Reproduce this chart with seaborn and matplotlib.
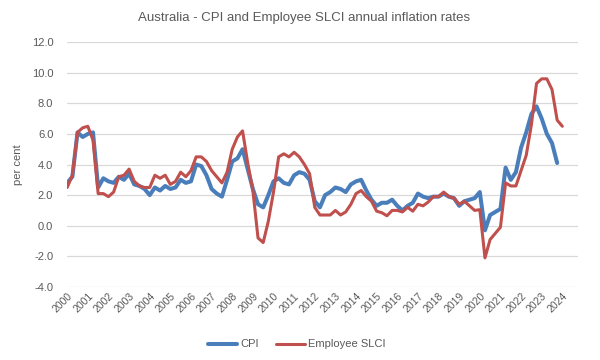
import numpy as np
import pandas as pd
import seaborn as sns
import matplotlib.pyplot as plt
from matplotlib.ticker import FuncFormatter

# annual inflation rates, quarterly from March 2000
cpi = [2.8, 3.2, 6.1, 5.8, 6.0, 6.1, 2.5, 3.1, 2.9, 2.8, 3.2, 3.0,
       3.4, 2.7, 2.6, 2.4, 2.0, 2.5, 2.3, 2.6, 2.4, 2.5, 3.0, 2.8,
       2.9, 4.0, 3.9, 3.3, 2.4, 2.1, 1.9, 3.0, 4.2, 4.4, 5.0, 3.7,
       2.4, 1.4, 1.2, 2.0, 2.9, 3.1, 2.8, 2.7, 3.3, 3.5, 3.4, 3.0,
       1.6, 1.2, 2.0, 2.2, 2.5, 2.4, 2.2, 2.7, 2.9, 3.0, 2.3, 1.7,
       1.3, 1.5, 1.5, 1.7, 1.3, 1.0, 1.3, 1.5, 2.1, 1.9, 1.8, 1.9,
       1.9, 2.1, 1.9, 1.8, 1.3, 1.6, 1.7, 1.8, 2.2, -0.3, 0.7, 0.9,
       1.1, 3.8, 3.0, 3.5, 5.1, 6.1, 7.3, 7.8, 7.0, 6.0, 5.4, 4.1]

slci = [2.5, 3.3, 6.1, 6.4, 6.5, 5.6, 2.1, 2.1, 1.9, 2.2, 3.2, 3.3,
        3.7, 2.9, 2.6, 2.5, 2.5, 3.3, 3.1, 3.3, 2.7, 2.9, 3.5, 3.2,
        3.6, 4.5, 4.5, 4.2, 3.6, 3.2, 2.8, 3.5, 5.0, 5.8, 6.2, 4.1,
        2.3, -0.8, -1.1, 0.3, 2.2, 4.5, 4.7, 4.5, 4.8, 4.5, 4.0, 3.4,
        1.2, 0.7, 0.7, 0.7, 1.0, 0.7, 0.9, 1.4, 2.1, 2.3, 1.9, 1.6,
        0.95, 0.85, 0.65, 1.0, 1.0, 0.9, 1.2, 0.95, 1.4, 1.3, 1.55, 1.9,
        1.9, 2.2, 1.9, 1.8, 1.4, 1.6, 1.3, 1.0, 1.05, -2.1, -0.9, -0.5,
        -0.1, 2.8, 2.6, 2.6, 3.6, 4.6, 6.6, 9.3, 9.6, 9.6, 8.9, 6.9, 6.5]

year_labels = [str(y) for y in range(2000, 2025)]
y_ticks = [-4, -2, 0, 2, 4, 6, 8, 10, 12]

blue = "#4A7EBB"
red = "#C0504D"
grey_text = "#595959"

frame = pd.concat([
    pd.DataFrame({"quarter": np.arange(len(cpi)), "value": cpi, "series": "CPI"}),
    pd.DataFrame({"quarter": np.arange(len(slci)), "value": slci, "series": "Employee SLCI"}),
])

sns.set_style("white")
plt.rcParams["font.family"] = ["Liberation Sans", "DejaVu Sans"]

fig = plt.figure(figsize=(6, 3.6), dpi=100)
ax = fig.add_axes([0.112, 0.203, 0.851, 0.680])

sns.lineplot(data=frame[frame.series == "CPI"], x="quarter", y="value",
             color=blue, linewidth=2.9, label="CPI", ax=ax)
sns.lineplot(data=frame[frame.series == "Employee SLCI"], x="quarter", y="value",
             color=red, linewidth=2.2, label="Employee SLCI", ax=ax)

ax.set_xlim(0, 99)
ax.set_ylim(-4, 12)
ax.set_yticks(y_ticks)
ax.yaxis.set_major_formatter(FuncFormatter(lambda v, p: f"{v:.1f}"))
ax.set_xticks(np.arange(0, 4 * len(year_labels), 4))
ax.set_xticklabels(year_labels, rotation=45, ha="right", va="top",
                   rotation_mode="anchor")
ax.tick_params(axis="x", length=0, pad=3, labelsize=7.5, colors=grey_text)
ax.tick_params(axis="y", length=0, pad=10, labelsize=8, colors=grey_text)

ax.grid(axis="y", color="#D9D9D9", linewidth=0.9)
ax.grid(axis="x", visible=False)
for side in ax.spines.values():
    side.set_visible(False)

ax.set_xlabel("")
ax.set_ylabel("per cent", fontsize=8, color=grey_text, labelpad=6)

fig.text(0.507, 0.95, "Australia - CPI and Employee SLCI annual inflation rates",
         ha="center", va="center", fontsize=9.5, color=grey_text)

ax.legend(loc="center", bbox_to_anchor=(0.45, -0.235), ncol=2, frameon=False,
          fontsize=8, handlelength=2.6, columnspacing=1.5, handletextpad=0.3,
          labelcolor=grey_text)

fig.savefig("out.png", dpi=100)
